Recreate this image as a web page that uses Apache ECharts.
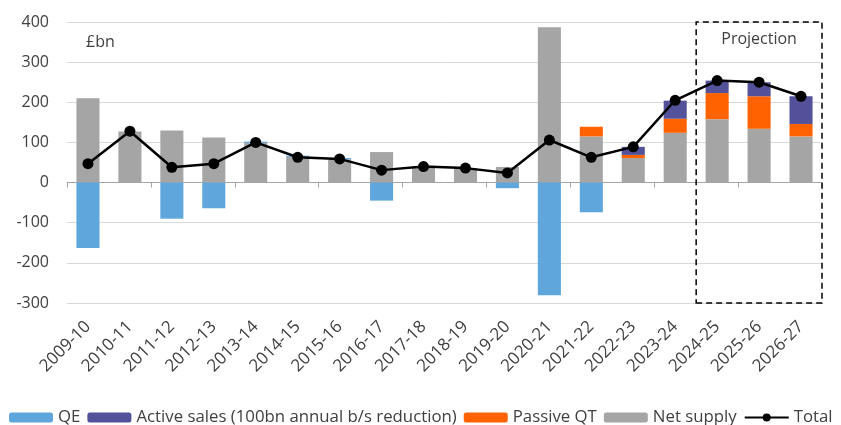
<!DOCTYPE html>
<html>
<head>
<meta charset="utf-8">
<script src="https://cdn.jsdelivr.net/npm/echarts@6/dist/echarts.min.js"></script>
<style>
  html, body { margin: 0; padding: 0; background: #ffffff; }
  #chart { width: 841px; height: 425px; }
</style>
</head>
<body>
<div id="chart"></div>
<script>
// Gilt supply components by fiscal year, £bn
const categories = ['2009-10', '2010-11', '2011-12', '2012-13', '2013-14', '2014-15', '2015-16', '2016-17', '2017-18',
  '2018-19', '2019-20', '2020-21', '2021-22', '2022-23', '2023-24', '2024-25', '2025-26', '2026-27'];
const qe          = [-163, 0, -90, -64, 3, 3, 3, -45, 0, 0, -14, -281, -74, 0, 0, 0, 0, 0];
const activeSales = [0, 0, 0, 0, 0, 0, 0, 0, 0, 0, 0, 0, 0, 20, 45, 31, 35, 69];
const passiveQT   = [0, 0, 0, 0, 0, 0, 0, 0, 0, 0, 0, 0, 24, 8, 35, 65, 81, 31];
const netSupply   = [210, 127, 130, 112, 99, 64, 58, 76, 40, 36, 39, 387, 115, 61, 124, 158, 134, 115];
const total       = [47, 128, 38, 47, 100, 63, 59, 31, 40, 36, 24, 106, 63, 89, 205, 254, 250, 215];
const yTicks      = [-300, -200, -100, 0, 100, 200, 300, 400];
const projectionStart = '2024-25';

const FONT = 'Open Sans';
const TEXT = '#404040';

const chart = echarts.init(document.getElementById('chart'), null, { renderer: 'canvas' });

const startIdx = categories.indexOf(projectionStart);

const option = {
  animation: false,
  textStyle: { fontFamily: FONT },
  title: {
    text: '£bn',
    left: 81, top: 29,
    textStyle: { fontFamily: FONT, fontSize: 16, fontWeight: 'normal', color: TEXT }
  },
  legend: {
    top: 409,
    left: 9,
    width: 832,
    padding: 0,
    itemWidth: 44,
    itemHeight: 10,
    itemGap: 7,
    textStyle: { fontFamily: FONT, fontSize: 16.8, color: TEXT },
    data: ['QE', 'Active sales (100bn annual b/s reduction)', 'Passive QT', 'Net supply', 'Total']
  },
  grid: { left: 67, right: 19, top: 22, bottom: 122 },
  xAxis: [
    {
      type: 'category',
      data: categories,
      axisLine: { onZero: true, lineStyle: { color: '#a6a6a6', width: 1 } },
      axisTick: { show: true, length: 5, lineStyle: { color: '#a6a6a6' } },
      axisLabel: { show: false },
      splitLine: { show: false }
    },
    {
      type: 'category',
      data: categories,
      position: 'bottom',
      axisLine: { show: false, onZero: false },
      axisTick: { show: false },
      axisLabel: { interval: 0, rotate: 45, margin: 21, fontFamily: FONT, fontSize: 17, color: TEXT },
      splitLine: { show: false }
    }
  ],
  yAxis: {
    type: 'value',
    min: yTicks[0],
    max: yTicks[yTicks.length - 1],
    interval: 100,
    axisLine: { show: false },
    axisTick: { show: false },
    axisLabel: { margin: 18, fontFamily: FONT, fontSize: 16, color: TEXT },
    splitLine: { lineStyle: { color: '#d9d9d9', width: 1 } }
  },
  series: [
    {
      name: 'Net supply', type: 'bar', stack: 'supply', data: netSupply,
      barWidth: '55%',
      itemStyle: { color: '#a5a5a5' },
      markArea: {
        silent: true,
        itemStyle: { color: 'rgba(0,0,0,0)', borderColor: '#000000', borderWidth: 1.5, borderType: [6, 4] },
        label: { show: true, position: 'insideTop', distance: 10, formatter: 'Projection',
                 fontFamily: FONT, fontSize: 16, color: TEXT },
        data: [[
          { xAxis: startIdx - 0.5, yAxis: yTicks[yTicks.length - 1] },
          { xAxis: categories.length - 0.5, yAxis: yTicks[0] }
        ]]
      }
    },
    { name: 'Passive QT', type: 'bar', stack: 'supply', data: passiveQT, itemStyle: { color: '#ff6200' } },
    { name: 'Active sales (100bn annual b/s reduction)', type: 'bar', stack: 'supply', data: activeSales, itemStyle: { color: '#525199' } },
    { name: 'QE', type: 'bar', stack: 'supply', data: qe, itemStyle: { color: '#5ea6dc' } },
    {
      name: 'Total', type: 'line', data: total,
      symbol: 'circle', symbolSize: 11,
      lineStyle: { color: '#000000', width: 2.5 },
      itemStyle: { color: '#000000' },
      z: 5
    }
  ]
};

chart.setOption(option);
</script>
</body>
</html>
